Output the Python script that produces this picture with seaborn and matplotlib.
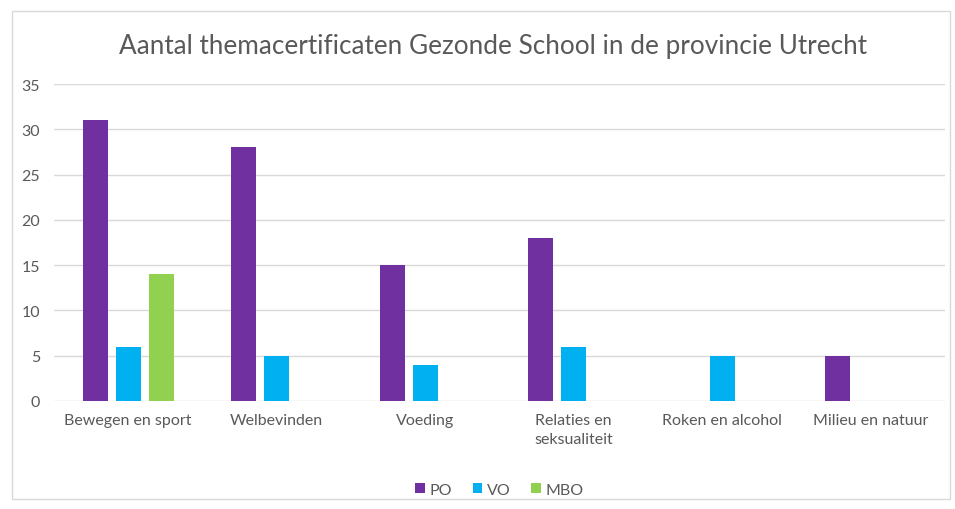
import pandas as pd
import seaborn as sns
import matplotlib.pyplot as plt
from matplotlib.patches import Rectangle

# Data
themas = ["Bewegen en sport", "Welbevinden", "Voeding", "Relaties en\nseksualiteit",
          "Roken en alcohol", "Milieu en natuur"]
po = [31, 28, 15, 18, 0, 5]
vo = [6, 5, 4, 6, 5, 0]
mbo = [14, 0, 0, 0, 0, 0]
niveaus = ["PO", "VO", "MBO"]
kleuren = ["#7030A0", "#00B0F0", "#92D050"]

df = pd.DataFrame({"thema": themas * 3,
                   "niveau": ["PO"] * 6 + ["VO"] * 6 + ["MBO"] * 6,
                   "aantal": po + vo + mbo})

sns.set_theme(style="white")
plt.rcParams["font.family"] = ["Lato", "DejaVu Sans"]
grijs = "#595959"

fig = plt.figure(figsize=(9.55, 5.1), dpi=100)
ax = fig.add_axes([0.0565, 0.2118, 0.933, 0.6215])

# kader rond de grafiek
fig.patches.append(Rectangle((12 / 955, 10 / 510), 938 / 955, 488 / 510,
                             transform=fig.transFigure, fill=False,
                             edgecolor="#D9D9D9", linewidth=1))

sns.barplot(data=df, x="thema", y="aantal", hue="niveau", hue_order=niveaus,
            palette=kleuren, saturation=1, width=0.667, gap=0.24, linewidth=0, ax=ax)

ax.set_ylim(0, 35)
ax.set_yticks(range(0, 36, 5))
ax.yaxis.grid(True, color="#D9D9D9", linewidth=1)
ax.set_axisbelow(True)
for s in ax.spines.values():
    s.set_visible(False)
ax.set_xlabel("")
ax.set_ylabel("")
ax.tick_params(axis="both", length=0, labelsize=11.5, colors=grijs)
ax.tick_params(axis="x", pad=9)
ax.tick_params(axis="y", pad=10)
for lbl in ax.get_xticklabels():
    lbl.set_linespacing(1.45)

fig.text(0.516, 0.908, "Aantal themacertificaten Gezonde School in de provincie Utrecht",
         ha="center", va="center", fontsize=18.8, color=grijs)

ax.legend(loc="center", bbox_to_anchor=(0.5, -0.28), ncol=3, frameon=False,
          fontsize=11.5, handlelength=0.6, handleheight=0.6, handletextpad=0.3,
          columnspacing=1.3, labelcolor=grijs)

fig.savefig("out.png", dpi=100)
